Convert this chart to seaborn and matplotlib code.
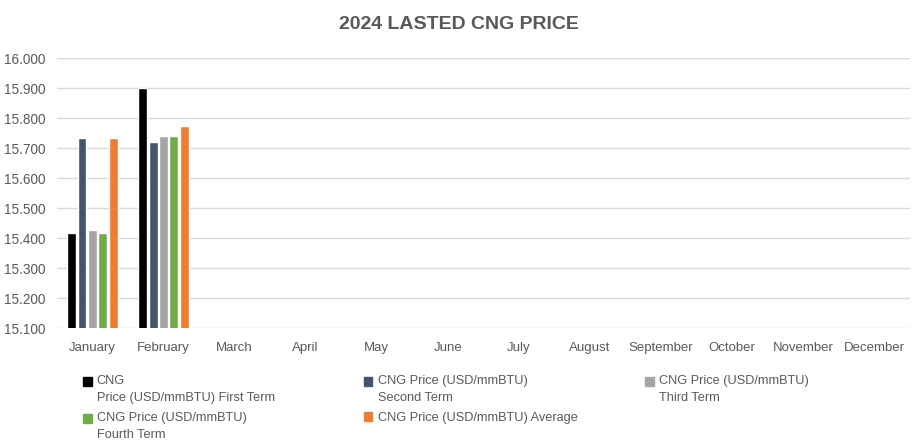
import matplotlib
matplotlib.use("Agg")
import matplotlib.pyplot as plt
import matplotlib.patches as mpatches
from matplotlib.legend_handler import HandlerPatch
import seaborn as sns
import pandas as pd
import numpy as np

months = ["January", "February", "March", "April", "May", "June", "July",
          "August", "September", "October", "November", "December"]
series = [
    "CNG\nPrice (USD/mmBTU) First Term",
    "CNG Price (USD/mmBTU)\nSecond Term",
    "CNG Price (USD/mmBTU)\nThird Term",
    "CNG Price (USD/mmBTU)\nFourth Term",
    "CNG Price (USD/mmBTU) Average",
]
first_term = [15.418, 15.900]
second_term = [15.734, 15.721]
third_term = [15.428, 15.741]
fourth_term = [15.418, 15.741]
average = [15.734, 15.774]
colors = ["#000000", "#44546A", "#A5A5A5", "#70AD47", "#ED7D31"]

rows = []
for s, vals in zip(series, [first_term, second_term, third_term, fourth_term, average]):
    for m, v in zip(months, vals):
        rows.append({"Month": m, "Series": s, "Value": v})
df = pd.DataFrame(rows)

sns.set_theme(style="white")
plt.rcParams["font.family"] = ["Liberation Sans", "DejaVu Sans"]
txt = "#595959"
LEG_FS = 9.2
LINESP = 1.6


class TopHandler(HandlerPatch):
    def __init__(self, nlines, **kw):
        super().__init__(**kw)
        self.nlines = nlines

    def create_artists(self, legend, orig_handle, xdescent, ydescent, width,
                       height, fontsize, trans):
        arts = super().create_artists(legend, orig_handle, xdescent, ydescent,
                                      width, height, fontsize, trans)
        off = (self.nlines - 1) * LINESP * fontsize / 2.0 * 0.78
        for a in arts:
            a.set_y(a.get_y() + off)
        return arts


fig = plt.figure(figsize=(9.18, 4.44), dpi=100)
ax = fig.add_axes([0.062, 0.261, 0.929, 0.608])
sns.barplot(data=df, x="Month", y="Value", hue="Series", order=months,
            hue_order=series, palette=colors, errorbar=None, width=0.73,
            gap=0.15, ax=ax, legend=False, saturation=1)
ax.set_ylim(15.1, 16.0)
ax.set_yticks(np.arange(15.1, 16.0001, 0.1))
ax.yaxis.set_major_formatter(matplotlib.ticker.FormatStrFormatter("%.3f"))
ax.grid(axis="y", color="#D9D9D9", linewidth=1)
ax.set_axisbelow(True)
for sp in ax.spines.values():
    sp.set_visible(False)
ax.set_xlabel("")
ax.set_ylabel("")
ax.tick_params(axis="both", length=0, colors=txt)
ax.tick_params(axis="x", pad=10, labelsize=9.5)
ax.tick_params(axis="y", pad=8, labelsize=9.8)
fig.suptitle("2024 LASTED CNG PRICE", x=0.5, y=0.963, fontsize=14,
             fontweight="bold", color=txt)

cols = [[0, 3], [1, 4], [2]]
xs = [0.090, 0.396, 0.703]
for xi, idxs in zip(xs, cols):
    handles = [mpatches.Patch(color=colors[i], label=series[i]) for i in idxs]
    hmap = {h: TopHandler(series[i].count("\n") + 1) for h, i in zip(handles, idxs)}
    leg = fig.legend(handles=handles, loc="upper left", bbox_to_anchor=(xi, 0.156),
                     frameon=False, fontsize=LEG_FS, handlelength=0.7, handleheight=0.7,
                     handletextpad=0.4, labelspacing=0.58, borderpad=0, borderaxespad=0,
                     handler_map=hmap)
    for t in leg.get_texts():
        t.set_color(txt)
        t.set_linespacing(LINESP)

fig.savefig("out.png", dpi=100)
